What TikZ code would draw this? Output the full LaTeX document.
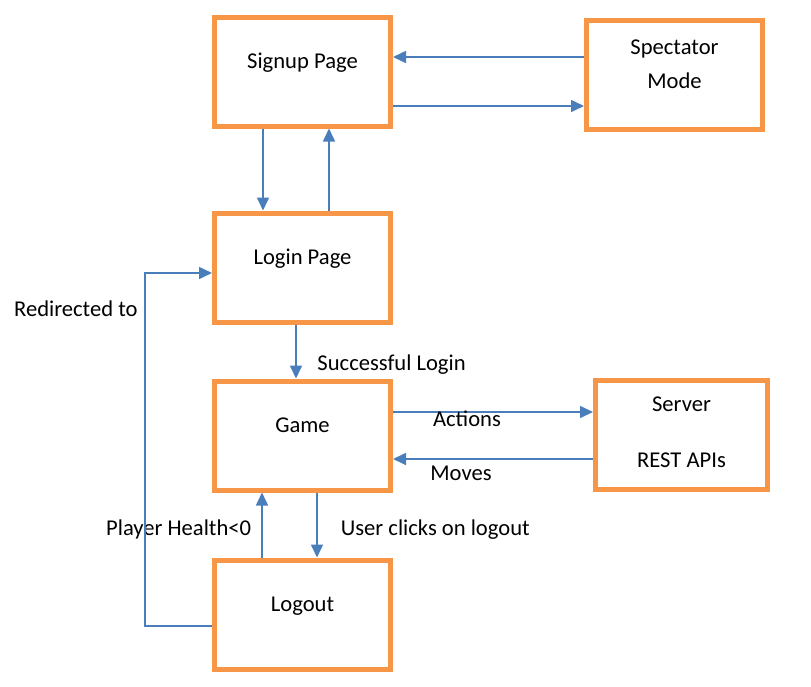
\documentclass[tikz,border=0pt]{standalone}
\usepackage{fontspec}
\setmainfont{Carlito}
\usetikzlibrary{arrows.meta}
\usepackage{xcolor}
\definecolor{boxorange}{HTML}{F79646}
\definecolor{flowblue}{HTML}{4A7EBB}

\begin{document}
\begin{tikzpicture}[x=0.5pt, y=-0.5pt,
  pagebox/.style={draw=boxorange, line width=2.5pt, fill=white,
    minimum width=88pt, minimum height=54.5pt,
    font=\fontsize{11.3}{17}\selectfont, text height=8pt, text depth=11pt},
  flow/.style={draw=flowblue, line width=0.8pt, -{Triangle[length=6.5pt, width=6pt]}},
  lbl/.style={font=\fontsize{11.3}{14}\selectfont}]

  % Canvas (811 x 687)
  \useasboundingbox (0,0) rectangle (811,687);

  % ==================== 1. PAGES ====================
  \node[pagebox] (signup) at (302.5,71.5) {Signup Page};
  \node[pagebox, align=center, text height={}, text depth=10.5pt] (spectator) at (674.5,74.5) {Spectator\\Mode};
  \node[pagebox] (login) at (302.5,267.5) {Login Page};
  \node[pagebox] (game) at (302.5,435.5) {Game};
  \node[pagebox, minimum width=86pt, align=center, font=\fontsize{11.3}{28}\selectfont,
    text height={}, text depth=3pt] (server) at (681.5,435) {Server\\REST APIs};
  \node[pagebox] (logout) at (302.5,614.5) {Logout};

  % ==================== 2. FLOWS ====================
  % Signup <-> Spectator
  \draw[flow] ([yshift=8.75pt]spectator.west) -- ([yshift=7.25pt]signup.east);
  \draw[flow] ([yshift=-17.25pt]signup.east) -- ([yshift=-15.75pt]spectator.west);

  % Signup <-> Login
  \draw[flow] ([xshift=-19.75pt]signup.south) -- ([xshift=-19.75pt]login.north);
  \draw[flow] ([xshift=13.25pt]login.north) -- ([xshift=13.25pt]signup.south);

  % Login -> Game
  \draw[flow] ([xshift=-3.25pt]login.south) --
    node[lbl, pos=0.72, right=7pt, yshift=-0.5pt] {Successful Login} ([xshift=-3.25pt]game.north);

  % Game <-> Server
  \draw[flow] ([yshift=11.75pt]game.east) --
    node[lbl, pos=0.37, yshift=-3.5pt] {Actions} ([yshift=11.5pt]server.west);
  \draw[flow] ([yshift=-12pt]server.west) --
    node[lbl, pos=0.66, yshift=-7pt] {Moves} ([yshift=-11.75pt]game.east);

  % Game <-> Logout
  \draw[flow] ([xshift=-20.25pt]logout.north) --
    node[lbl, pos=0.43, left=1.7pt] {Player Health<0} ([xshift=-20.25pt]game.south);
  \draw[flow] ([xshift=7.25pt]game.south) --
    node[lbl, pos=0.57, right=8.2pt] {User clicks on logout} ([xshift=7.25pt]logout.north);

  % Logout -> Login (loop on the left)
  \coordinate (redirbend) at ([shift={(-33.5pt,-2.75pt)}]login.west);
  \draw[flow] ([yshift=-5.75pt]logout.west) -|
    node[lbl, pos=0.95, left] {Redirected to} (redirbend) -- ([yshift=-2.75pt]login.west);

\end{tikzpicture}
\end{document}
